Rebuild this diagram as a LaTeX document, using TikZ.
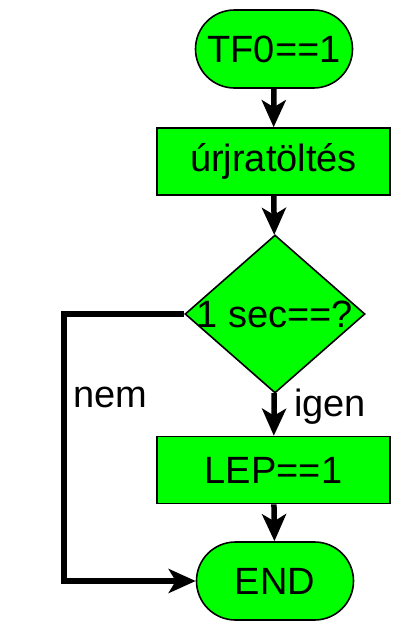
\documentclass[tikz,border=0pt]{standalone}
\usepackage{fontspec}
\setmainfont{Liberation Sans}
\usepackage{tikz}
\usetikzlibrary{arrows.meta,shapes.geometric}
\definecolor{boxgreen}{RGB}{0, 255, 0}

\begin{document}
\begin{tikzpicture}[x=1pt, y=-1pt,
    terminal/.style={draw, line width=1.6pt, fill=boxgreen, rectangle, rounded corners=39pt, minimum width=157pt, minimum height=78pt, inner sep=0pt},
    process/.style={draw, line width=1.6pt, fill=boxgreen, rectangle, minimum width=233pt, minimum height=67pt, inner sep=0pt},
    decision/.style={draw, line width=1.6pt, fill=boxgreen, diamond, minimum width=180pt, minimum height=158pt, inner sep=0pt},
    flow/.style={-{Stealth[length=27pt, width=24pt, inset=7pt]}, line width=5.5pt},
    font=\fontsize{38}{40}\selectfont]
    \useasboundingbox (0,0) rectangle (417,632);

    % Boxes
    \node[terminal] (start) at (274,49) {TF0==1};
    \node[process] (reload) at (273.5,161.5) {úrjratöltés};
    \node[decision] (check) at (275,314) {\makebox[0pt]{1 sec==?}};
    \node[process] (lep) at (273.5,470) {LEP==1};
    \node[terminal] (end) at (275,581) {END};

    % Main flow
    \draw[flow] (start) -- (reload);
    \draw[flow] (reload) -- (check);
    \draw[flow] (check) -- (lep);
    \draw[flow] (lep) -- (end);
    \node (yes) at (330,407) {igen};

    % Skip branch
    \coordinate (skip) at (64,314);
    \draw[flow] (check.west) -- (skip) |- (end.west);
    \node (no) at (110,397) {nem};
\end{tikzpicture}
\end{document}
